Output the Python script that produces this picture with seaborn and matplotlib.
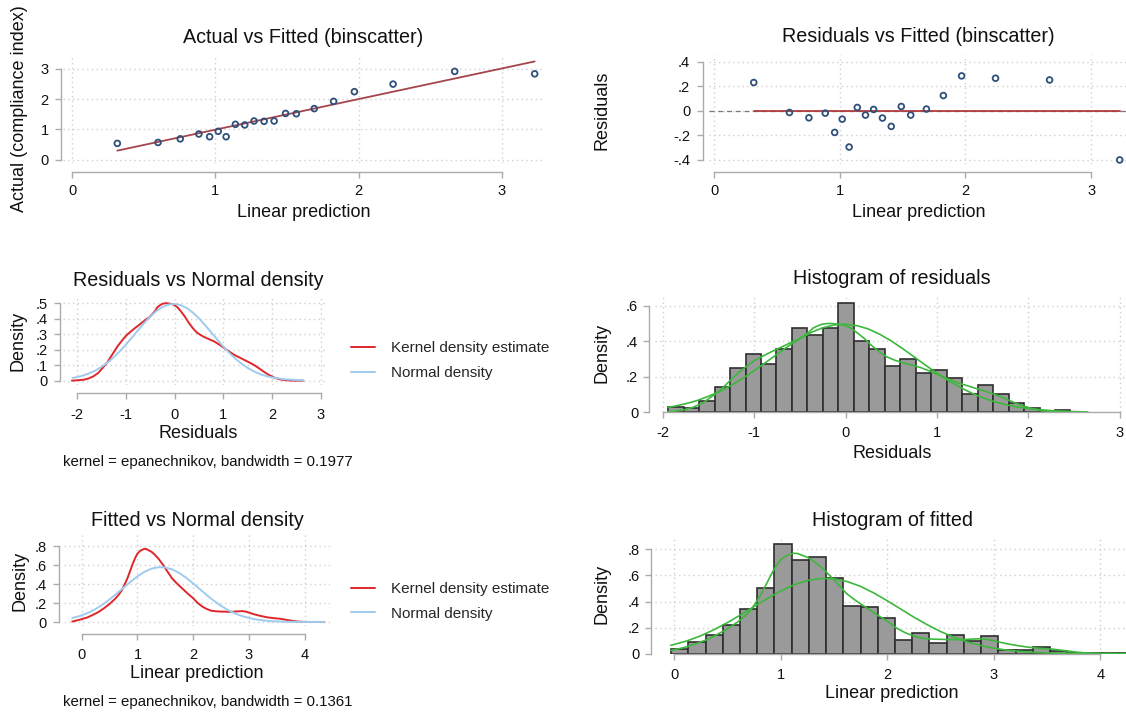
import numpy as np
import pandas as pd
import matplotlib
matplotlib.use("Agg")
import matplotlib.pyplot as plt
import seaborn as sns

# ------------------------------------------------------------------ data
bin_fitted = [0.316, 0.60, 0.755, 0.885, 0.96, 1.02, 1.075, 1.14, 1.205, 1.27,
              1.34, 1.41, 1.49, 1.565, 1.69, 1.825, 1.97, 2.24, 2.67, 3.228]
bin_actual = [0.54, 0.57, 0.69, 0.85, 0.76, 0.94, 0.76, 1.17, 1.15, 1.28,
              1.27, 1.28, 1.53, 1.52, 1.69, 1.93, 2.25, 2.50, 2.92, 2.84]
bin_resid = [0.23, -0.014, -0.057, -0.019, -0.176, -0.068, -0.295, 0.027, -0.035, 0.011,
             -0.059, -0.127, 0.035, -0.035, 0.014, 0.124, 0.284, 0.265, 0.251, -0.40]
fit_line_x = [0.316, 3.228]
fit_line_y = [0.30, 3.25]

res_kde_x = [-2.11, -1.94, -1.87, -1.77, -1.67, -1.57, -1.47, -1.38, -1.30, -1.23, -1.165,
             -1.08, -1.0, -0.9, -0.795, -0.69, -0.59, -0.52, -0.458, -0.40, -0.357, -0.30,
             -0.256, -0.2, -0.155, -0.09, -0.02, 0.05, 0.114, 0.2, 0.283, 0.37, 0.451, 0.54,
             0.62, 0.72, 0.82, 0.92, 1.024, 1.126, 1.226, 1.33, 1.428, 1.53, 1.63, 1.73,
             1.83, 1.93, 2.03, 2.13, 2.236, 2.44, 2.64]
res_kde_y = [0.0, 0.004, 0.006, 0.014, 0.028, 0.05, 0.086, 0.12, 0.16, 0.195, 0.226,
             0.26, 0.29, 0.318, 0.345, 0.37, 0.395, 0.41, 0.43, 0.452, 0.474, 0.488,
             0.496, 0.5, 0.5, 0.497, 0.491, 0.476, 0.453, 0.418, 0.377, 0.34, 0.312, 0.293,
             0.28, 0.266, 0.252, 0.232, 0.209, 0.187, 0.166, 0.15, 0.134, 0.118, 0.101, 0.08,
             0.058, 0.038, 0.022, 0.011, 0.004, 0.0, 0.0]
res_norm_x = [-2.1, -1.94, -1.875, -1.75, -1.625, -1.5, -1.375, -1.25, -1.125, -1.0, -0.875,
              -0.75, -0.625, -0.5, -0.375, -0.25, -0.125, 0.0, 0.125, 0.25, 0.375, 0.5,
              0.625, 0.75, 0.875, 1.0, 1.125, 1.25, 1.375, 1.5, 1.625, 1.75, 1.875, 2.0,
              2.25, 2.5, 2.65]
res_norm_y = [0.017, 0.028, 0.034, 0.048, 0.066, 0.090, 0.118, 0.152, 0.191, 0.234, 0.280,
              0.327, 0.373, 0.414, 0.450, 0.476, 0.492, 0.496, 0.488, 0.469, 0.439, 0.402,
              0.358, 0.312, 0.265, 0.220, 0.178, 0.141, 0.109, 0.082, 0.060, 0.043, 0.030,
              0.021, 0.009, 0.004, 0.002]

fit_kde_x = [-0.17, -0.03, 0.1, 0.2, 0.3, 0.4, 0.5, 0.6, 0.66, 0.72, 0.77, 0.82, 0.87,
             0.92, 0.96, 1.0, 1.05, 1.12, 1.16, 1.2, 1.25, 1.3, 1.38, 1.46, 1.54, 1.62, 1.7,
             1.8, 1.9, 2.0, 2.08, 2.17, 2.25, 2.33, 2.42, 2.5, 2.6, 2.7, 2.8, 2.88, 2.95,
             3.1, 3.2, 3.32, 3.45, 3.55, 3.65, 3.8, 3.9, 4.0, 4.35]
fit_kde_y = [0.005, 0.025, 0.048, 0.075, 0.105, 0.145, 0.19, 0.245, 0.285, 0.335, 0.395,
             0.46, 0.54, 0.62, 0.675, 0.72, 0.75, 0.77, 0.768, 0.755, 0.74, 0.715, 0.665,
             0.60, 0.53, 0.46, 0.41, 0.355, 0.30, 0.25, 0.20, 0.16, 0.135, 0.118, 0.112,
             0.11, 0.108, 0.108, 0.112, 0.115, 0.108, 0.08, 0.065, 0.05, 0.04, 0.035, 0.025,
             0.01, 0.004, 0.001, 0.0]
fit_norm_x = [-0.17, -0.03, 0.125, 0.25, 0.375, 0.5, 0.625, 0.75, 0.875, 1.0, 1.125, 1.25,
              1.375, 1.5, 1.625, 1.75, 1.875, 2.0, 2.125, 2.25, 2.375, 2.5, 2.625, 2.75,
              2.875, 3.0, 3.125, 3.25, 3.375, 3.5, 3.75, 4.0, 4.35]
fit_norm_y = [0.042, 0.064, 0.099, 0.137, 0.184, 0.238, 0.298, 0.361, 0.423, 0.480, 0.528,
              0.561, 0.577, 0.574, 0.553, 0.516, 0.465, 0.406, 0.343, 0.280, 0.222, 0.170,
              0.126, 0.090, 0.063, 0.042, 0.027, 0.017, 0.010, 0.006, 0.002, 0.0005, 0.0]

res_hist_start = -1.94
res_hist_width = 0.1692
res_hist_heights = [0.032, 0.022, 0.064, 0.144, 0.248, 0.328, 0.27, 0.355, 0.475, 0.435,
                    0.473, 0.613, 0.40, 0.355, 0.26, 0.30, 0.22, 0.238, 0.195, 0.103,
                    0.154, 0.103, 0.05, 0.022, 0.0, 0.013]
fit_hist_start = -0.027
fit_hist_width = 0.1615
fit_hist_heights = [0.033, 0.092, 0.146, 0.217, 0.34, 0.50, 0.841, 0.719, 0.739, 0.583,
                    0.368, 0.36, 0.271, 0.102, 0.161, 0.079, 0.143, 0.095, 0.136, 0.028,
                    0.028, 0.054, 0.018, 0.005, 0.005, 0.008, 0.008]

titles = ["Actual vs Fitted (binscatter)", "Residuals vs Fitted (binscatter)",
          "Residuals vs Normal density", "Histogram of residuals",
          "Fitted vs Normal density", "Histogram of fitted"]
xtitles = ["Linear prediction", "Linear prediction", "Residuals", "Residuals",
           "Linear prediction", "Linear prediction"]
ytitles = ["Actual (compliance index)", "Residuals", "Density", "Density", "Density", "Density"]
legend_labels = ["Kernel density estimate", "Normal density"]
notes = ["kernel = epanechnikov, bandwidth = 0.1977", "kernel = epanechnikov, bandwidth = 0.1361"]

xt_fit = [0, 1, 2, 3]
xt_fit4 = [0, 1, 2, 3, 4]
xt_res = [-2, -1, 0, 1, 2, 3]
yt_actual = [0, 1, 2, 3]
yl_actual = ["0", "1", "2", "3"]
yt_resid = [-0.4, -0.2, 0, 0.2, 0.4]
yl_resid = ["-.4", "-.2", "0", ".2", ".4"]
yt_dens5 = [0, 0.1, 0.2, 0.3, 0.4, 0.5]
yl_dens5 = ["0", ".1", ".2", ".3", ".4", ".5"]
yt_dens6 = [0, 0.2, 0.4, 0.6]
yl_dens6 = ["0", ".2", ".4", ".6"]
yt_dens8 = [0, 0.2, 0.4, 0.6, 0.8]
yl_dens8 = ["0", ".2", ".4", ".6", ".8"]

# ------------------------------------------------------------------ style
sns.set_style("white")
plt.rcParams['font.family'] = ['Liberation Sans', 'DejaVu Sans']
plt.rcParams['axes.unicode_minus'] = False

NAVY = '#2e5079'
FIT_RED = '#a3454c'
ZERO_RED = '#b23b3e'
KDE_RED = '#e0262b'
NORM_BLUE = '#9fcbee'
GREEN = '#3cb83c'
AX_GRAY = '#ababab'
GRID = '#cfcfcf'
TXT = '#111111'
TICK_FS = 10.5

W, H, DPI = 1126, 713, 100
fig = plt.figure(figsize=(W / DPI, H / DPI), dpi=DPI)
fig.patch.set_facecolor('white')


def pt(px):
    return px * 72.0 / DPI


def add_ax(l, t, r, b):
    ax = fig.add_axes([l / W, 1 - b / H, (r - l) / W, (b - t) / H])
    ax.set_facecolor('none')
    return ax


def ftext(x, y, s, **kw):
    kw.setdefault('color', TXT)
    fig.text(x / W, 1 - y / H, s, **kw)


def stata(ax, xlim, ylim, xt, yt, yl, left_out, bottom_out, xpad=4.5, ypad=5.0):
    ax.set_xlim(xlim)
    ax.set_ylim(ylim)
    ax.set_xticks(xt)
    ax.set_xticklabels([str(v) for v in xt])
    ax.set_yticks(yt)
    ax.set_yticklabels(yl)
    for s in ['top', 'right']:
        ax.spines[s].set_visible(False)
    ax.spines['left'].set_position(('outward', pt(left_out)))
    ax.spines['bottom'].set_position(('outward', pt(bottom_out)))
    ax.spines['left'].set_bounds(min(yt), max(yt))
    ax.spines['bottom'].set_bounds(min(xt), max(xt))
    for s in ['left', 'bottom']:
        ax.spines[s].set_color(AX_GRAY)
        ax.spines[s].set_linewidth(1.0)
    ax.tick_params(axis='both', which='major', direction='out', length=4, width=1.0,
                   color=AX_GRAY, labelsize=TICK_FS, labelcolor=TXT,
                   bottom=True, left=True, top=False, right=False)
    ax.tick_params(axis='x', pad=xpad)
    ax.tick_params(axis='y', pad=ypad)
    ax.grid(True, linestyle=(0, (1, 2.4)), color=GRID, linewidth=1.0)
    ax.set_axisbelow(True)
    ax.set_xlabel('')
    ax.set_ylabel('')


def draw_hist(ax, start, width, heights):
    edges = [start + width * k for k in range(len(heights) + 1)]
    centers = [(edges[k] + edges[k + 1]) / 2 for k in range(len(heights))]
    df = pd.DataFrame({'x': centers, 'w': heights})
    sns.histplot(data=df, x='x', weights='w', bins=edges, stat='count',
                 color='#9a9a9a', edgecolor='#2f2f2f', linewidth=1.2, alpha=1, ax=ax)
    return edges


def density_legend(ax, ycenter):
    ax.legend(loc='center left', bbox_to_anchor=(351 / W, 1 - ycenter / H),
              bbox_transform=fig.transFigure, frameon=False, borderpad=0, borderaxespad=0,
              handlelength=1.55, handletextpad=1.05, labelspacing=0.7, fontsize=11)


# ---------------- panel 1: Actual vs Fitted
ax1 = add_ax(63, 55, 544, 163)
sns.lineplot(x=fit_line_x, y=fit_line_y, color=FIT_RED, linewidth=1.3,
             estimator=None, sort=False, ax=ax1)
sns.scatterplot(x=bin_fitted, y=bin_actual, marker='o', s=17, color=NAVY,
                facecolor='none', edgecolor=NAVY, linewidth=1.3, ax=ax1, zorder=3)
stata(ax1, (-0.063, 3.293), (-0.109, 3.463), xt_fit, yt_actual, yl_actual, 2, 8.7, xpad=4.6)
ftext(303.5, 37.5, titles[0], fontsize=14.2, ha='center', va='center')
ftext(303.5, 212.5, xtitles[0], fontsize=13, ha='center', va='center')
ftext(20, 109, ytitles[0], fontsize=13, ha='center', va='center', rotation=90)

# ---------------- panel 2: Residuals vs Fitted
ax2 = add_ax(709, 55, 1128, 164)
ax2.axhline(0, color='#7a7a7a', linewidth=0.9, linestyle=(0, (4, 3)), zorder=1.5)
sns.lineplot(x=[bin_fitted[0], bin_fitted[-1]], y=[0, 0], color=ZERO_RED, linewidth=1.3,
             estimator=None, sort=False, ax=ax2)
sns.scatterplot(x=bin_fitted, y=bin_resid, marker='o', s=17, color=NAVY,
                facecolor='none', edgecolor=NAVY, linewidth=1.3, ax=ax2, zorder=3)
stata(ax2, (-0.04, 3.294), (-0.433, 0.454), xt_fit, yt_resid, yl_resid, 6.3, 7.5, xpad=5.2)
ftext(918.5, 37, titles[1], fontsize=14.2, ha='center', va='center')
ftext(918.5, 212.5, xtitles[1], fontsize=13, ha='center', va='center')
ftext(602, 110, ytitles[1], fontsize=13, ha='center', va='center', rotation=90)

# ---------------- panel 3: Residuals vs Normal density
ax3 = add_ax(63, 296, 326, 385)
sns.lineplot(x=res_kde_x, y=res_kde_y, color=KDE_RED, linewidth=1.4, estimator=None,
             sort=False, ax=ax3, label=legend_labels[0])
sns.lineplot(x=res_norm_x, y=res_norm_y, color=NORM_BLUE, linewidth=1.4, estimator=None,
             sort=False, ax=ax3, label=legend_labels[1])
stata(ax3, (-2.294, 3.107), (-0.028, 0.547), xt_res, yt_dens5, yl_dens5, 3, 8.3, xpad=6.3)
density_legend(ax3, 360.5)
ftext(198, 280, titles[2], fontsize=14.2, ha='center', va='center')
ftext(198, 434, xtitles[2], fontsize=13, ha='center', va='center')
ftext(18.5, 341, ytitles[2], fontsize=13, ha='center', va='center', rotation=90)
ftext(62.7, 461.7, notes[0], fontsize=10.8, ha='left', va='center')

# ---------------- panel 4: Histogram of residuals
ax4 = add_ax(655, 296, 1128, 412.3)
res_edges = draw_hist(ax4, res_hist_start, res_hist_width, res_hist_heights)
rk = pd.DataFrame({'x': res_kde_x, 'y': res_kde_y})
rk = rk[rk.x >= res_edges[0] - 0.005]
rn = pd.DataFrame({'x': res_norm_x, 'y': res_norm_y})
rn = rn[rn.x >= res_edges[0] - 0.005]
sns.lineplot(data=rk, x='x', y='y', color=GREEN, linewidth=1.2, estimator=None, sort=False, ax=ax4)
sns.lineplot(data=rn, x='x', y='y', color=GREEN, linewidth=1.2, estimator=None, sort=False, ax=ax4)
stata(ax4, (-2.084, 3.088), (0, 0.655), xt_res, yt_dens6, yl_dens6, 5.7, 0, xpad=5.6, ypad=4.0)
ftext(892, 279, titles[3], fontsize=14.2, ha='center', va='center')
ftext(892, 453.5, xtitles[3], fontsize=13, ha='center', va='center')
ftext(602, 353, ytitles[3], fontsize=13, ha='center', va='center', rotation=90)

# ---------------- panel 5: Fitted vs Normal density
ax5 = add_ax(63.8, 535, 329.7, 626)
sns.lineplot(x=fit_kde_x, y=fit_kde_y, color=KDE_RED, linewidth=1.4, estimator=None,
             sort=False, ax=ax5, label=legend_labels[0])
sns.lineplot(x=fit_norm_x, y=fit_norm_y, color=NORM_BLUE, linewidth=1.4, estimator=None,
             sort=False, ax=ax5, label=legend_labels[1])
stata(ax5, (-0.321, 4.448), (-0.042, 0.916), xt_fit4, yt_dens8, yl_dens8, 4.8, 8, xpad=6.3)
density_legend(ax5, 601.3)
ftext(197, 521, titles[4], fontsize=14.2, ha='center', va='center')
ftext(197, 674, xtitles[4], fontsize=13, ha='center', va='center')
ftext(19.5, 581, ytitles[4], fontsize=13, ha='center', va='center', rotation=90)
ftext(62.7, 701.7, notes[1], fontsize=10.8, ha='left', va='center')

# ---------------- panel 6: Histogram of fitted
ax6 = add_ax(654.5, 536.7, 1128, 653.7)
fit_edges = draw_hist(ax6, fit_hist_start, fit_hist_width, fit_hist_heights)
fk = pd.DataFrame({'x': fit_kde_x, 'y': fit_kde_y})
fk = fk[fk.x >= fit_edges[0] - 0.005]
fn = pd.DataFrame({'x': fit_norm_x, 'y': fit_norm_y})
fn = fn[fn.x >= fit_edges[0] - 0.005]
sns.lineplot(data=fk, x='x', y='y', color=GREEN, linewidth=1.2, estimator=None, sort=False, ax=ax6)
sns.lineplot(data=fn, x='x', y='y', color=GREEN, linewidth=1.2, estimator=None, sort=False, ax=ax6)
stata(ax6, (-0.183, 4.258), (0, 0.897), xt_fit4, yt_dens8, yl_dens8, 3.9, 0, xpad=6.0, ypad=4.0)
ftext(892, 521, titles[5], fontsize=14.2, ha='center', va='center')
ftext(892, 693.5, xtitles[5], fontsize=13, ha='center', va='center')
ftext(602, 594, ytitles[5], fontsize=13, ha='center', va='center', rotation=90)

fig.savefig("out.png", dpi=DPI, facecolor='white')
